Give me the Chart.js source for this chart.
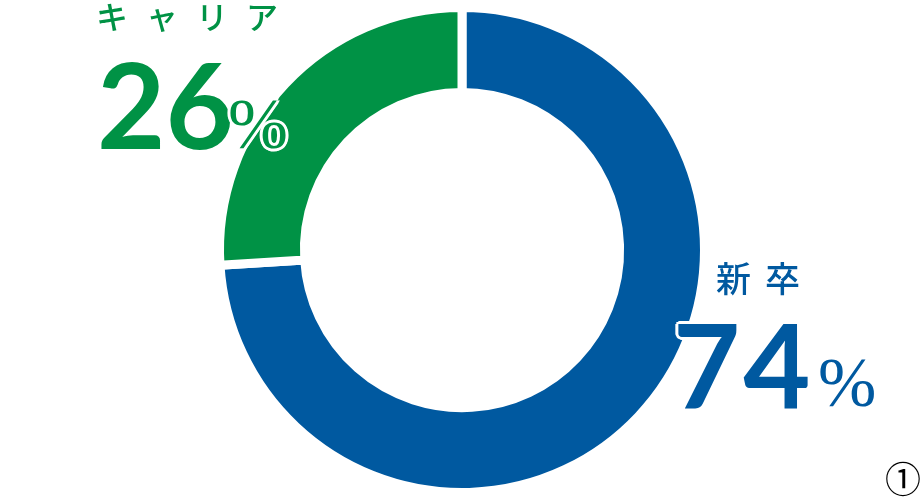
<!DOCTYPE html>
<html>
<head>
<meta charset="utf-8">
<script src="https://cdn.jsdelivr.net/npm/chart.js@4/dist/chart.umd.min.js"></script>
<style>
  html, body { margin: 0; padding: 0; background: #fff; }
  #wrap { position: relative; width: 923px; height: 500px; overflow: hidden; }
  canvas { position: absolute; left: 0; top: 0; }
  .lbl { position: absolute; white-space: nowrap; line-height: 1; }
  .cat { font-family: "Noto Sans CJK JP", sans-serif; font-weight: 500; }
  .num { font-family: Lato, sans-serif; font-weight: 700; }
  .pct { font-family: "Liberation Serif", serif; font-weight: 400; }
  .halo { text-shadow: 3px 0 #fff, -3px 0 #fff, 0 3px #fff, 0 -3px #fff,
          2px 2px #fff, -2px 2px #fff, 2px -2px #fff, -2px -2px #fff; }
</style>
</head>
<body>
<div id="wrap">
  <canvas id="donut" width="923" height="500"></canvas>
  <div class="lbl cat" id="lblCareer" style="left:96px; top:-1px; font-size:32px; letter-spacing:18px;"></div>
  <div class="lbl num" id="numCareer" style="left:97px; top:45px; font-size:118px;"></div>
  <div class="lbl pct halo" id="pctCareer" style="left:228px; top:88px; font-size:72px;">%</div>
  <div class="lbl cat" id="lblNew" style="left:716px; top:259px; font-size:35px; letter-spacing:14px;"></div>
  <div class="lbl num halo" id="numNew" style="left:673px; top:307px; font-size:116px; letter-spacing:3px;"></div>
  <div class="lbl pct" id="pctNew" style="left:818px; top:348px; font-size:70px;">%</div>
  <div class="lbl cat" id="note" style="left:885px; top:459px; font-size:36px; font-weight:400;">①</div>
</div>
<script>
// 新卒 / キャリア
const labels = ["新卒", "キャリア"];
const values = [74, 26];
const colors = ["#0059a0", "#009245"];

document.getElementById("lblNew").textContent = labels[0];
document.getElementById("numNew").textContent = `${values[0]}`;
document.getElementById("lblCareer").textContent = labels[1];
document.getElementById("numCareer").textContent = `${values[1]}`;
document.getElementById("lblNew").style.color = colors[0];
document.getElementById("numNew").style.color = colors[0];
document.getElementById("pctNew").style.color = colors[0];
document.getElementById("lblCareer").style.color = colors[1];
document.getElementById("numCareer").style.color = colors[1];
document.getElementById("pctCareer").style.color = colors[1];

new Chart("donut", {
    type: "doughnut",
    data: {
        labels: labels,
        datasets: [{
            data: values,
            backgroundColor: colors,
            borderColor: "#fff",
            borderWidth: 9
        }]
    },
    options: {
        responsive: false,
        animation: false,
        cutout: "65%",
        layout: {
            padding: { top: 3, bottom: 3, left: 1, right: 0 }
        },
        plugins: {
            legend: { display: false },
            tooltip: { enabled: false }
        }
    }
});
</script>
</body>
</html>
